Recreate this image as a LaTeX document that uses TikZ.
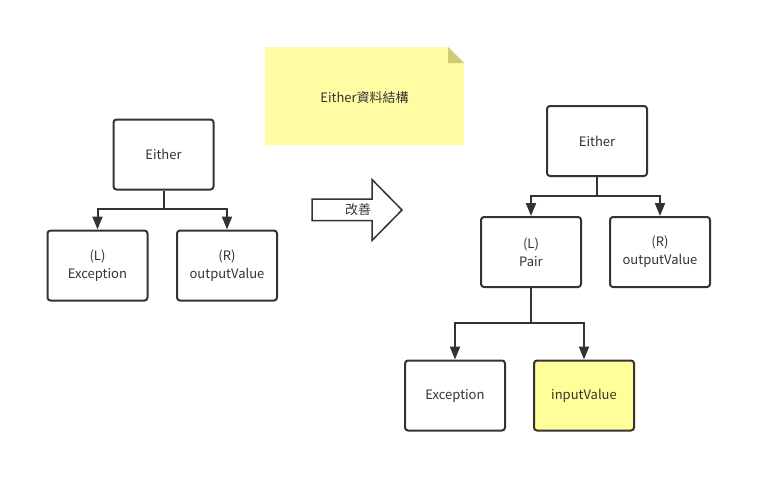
\documentclass[tikz,border=0pt]{standalone}
\usepackage{fontspec}
\setmainfont{Noto Sans CJK TC}
\usetikzlibrary{arrows.meta}
\definecolor{ink}{HTML}{333333}
\definecolor{noteyellow}{HTML}{FFFCA3}
\definecolor{notefold}{HTML}{CDCC76}
\definecolor{boxyellow}{HTML}{FFFF99}
\tikzset{
  box/.style={draw=ink, line width=2pt, rounded corners=3pt, fill=white,
    minimum width=100pt, minimum height=70pt, text=ink, align=center,
    font=\fontsize{13}{18}\selectfont, inner sep=0pt},
  conn/.style={draw=ink, line width=2pt, -{Triangle[width=10pt,length=13pt]}},
  trunk/.style={draw=ink, line width=2pt},
}
\begin{document}
\begin{tikzpicture}[x=1pt,y=-1pt]
\useasboundingbox (0,0) rectangle (772,493);
% note
\fill[noteyellow] (265,47) -- (448,47) -- (464,63) -- (464,145) -- (265,145) -- cycle;
\fill[notefold] (448,47) -- (464,63) -- (448,63) -- cycle;
\node[text=ink, font=\fontsize{13}{18}\selectfont] (note) at (364.5,98) {Either資料結構};
% block arrow
\draw[ink, line width=1.5pt, fill=white, line join=miter]
  (312,199) -- (372,199) -- (372,179.5) -- (402,210) -- (372,240.5) -- (372,220.5) -- (312,220.5) -- cycle;
\node[text=ink, font=\fontsize{13}{18}\selectfont] (improve) at (358,210) {改善};
% left tree
\node[box] (le) at (163.5,154.5) {Either};
\node[box] (ll) at (97.5,265.5) {(L)\\Exception};
\node[box] (lr) at (227,265.5) {(R)\\outputValue};
\coordinate (lb) at (163.5,209);
\draw[trunk] (le.south) -- (lb);
\draw[conn] (lb) -| (ll.north);
\draw[conn] (lb) -| (lr.north);
% right tree
\node[box] (re) at (597,141) {Either};
\node[box] (rl) at (531,252) {(L)\\Pair};
\node[box] (rr) at (660,252) {(R)\\outputValue};
\coordinate (rb) at (597,196);
\draw[trunk] (re.south) -- (rb);
\draw[conn] (rb) -| (rl.north);
\draw[conn] (rb) -| (rr.north);
\node[box] (ex) at (455,395.5) {Exception};
\node[box, fill=boxyellow] (iv) at (584,395.5) {inputValue};
\coordinate (pb) at (531,323);
\draw[trunk] (rl.south) -- (pb);
\draw[conn] (pb) -| (ex.north);
\draw[conn] (pb) -| (iv.north);
\end{tikzpicture}
\end{document}
